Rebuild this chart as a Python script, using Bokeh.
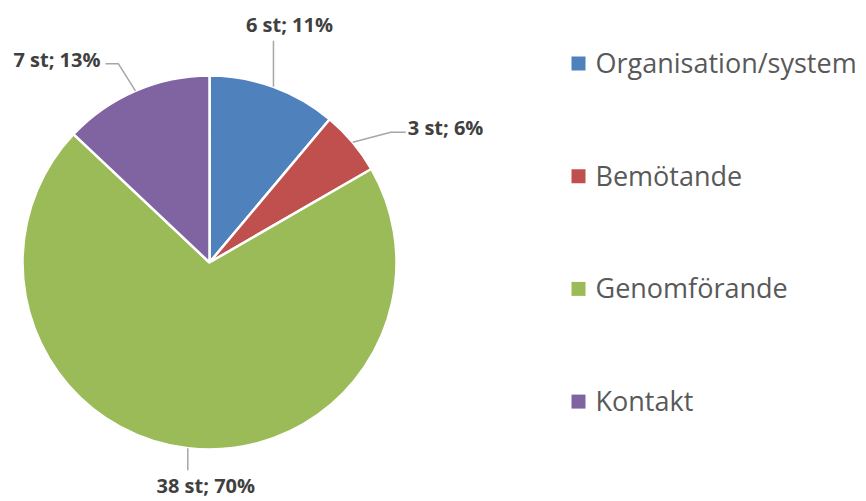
import math
from bokeh.plotting import figure
from bokeh.models import ColumnDataSource, Range1d
from bokeh.core.properties import value
from bokeh.embed import file_html
from bokeh.resources import INLINE

# ---- data ----
categories = ["Organisation/system", "Bemötande", "Genomförande", "Kontakt"]
counts = [6, 3, 38, 7]
colors = ["#4F81BD", "#C0504D", "#9BBB59", "#8064A2"]

W, H = 866, 501
total = sum(counts)

p = figure(width=W, height=H, output_backend="svg", toolbar_location=None,
           x_range=Range1d(0, W), y_range=Range1d(0, H), min_border=0)
p.axis.visible = False
p.grid.visible = False
p.outline_line_color = None
p.background_fill_color = "white"

cx, cy, r = 209, 239, 187

starts, ends, mids = [], [], []
cum = 0
for c in counts:
    a0 = math.pi / 2 - 2 * math.pi * cum / total
    cum += c
    a1 = math.pi / 2 - 2 * math.pi * cum / total
    starts.append(a0)
    ends.append(a1)
    mids.append((a0 + a1) / 2)

src = ColumnDataSource(dict(start=starts, end=ends, color=colors))
p.wedge(x=cx, y=cy, radius=r, start_angle="start", end_angle="end",
        direction="clock", fill_color="color", line_color="white",
        line_width=2.5, source=src)

# leader lines (style offsets from slice edge point)
leader_offsets = [
    [(0, 46)],
    [(38, 10), (15, 0)],
    [(0, -22)],
    [(-17, 27), (-13, 0)],
]
label_offsets = [(16, 16, "center"), (2, 5, "left"), (18, -15.5, "center"), (-5, 4, "right")]

for i, c in enumerate(counts):
    ex = cx + r * math.cos(mids[i])
    ey = cy + r * math.sin(mids[i])
    xs, ys = [ex], [ey]
    for dx, dy in leader_offsets[i]:
        xs.append(xs[-1] + dx)
        ys.append(ys[-1] + dy)
    p.line(xs, ys, line_color="#A6A6A6", line_width=1.5)
    lx, ly, al = label_offsets[i]
    pct = round(100 * c / total)
    p.text(x=[xs[-1] + lx], y=[ys[-1] + ly], text=[f"{c} st; {pct}%"],
           text_font=value("Open Sans"), text_font_style="bold",
           text_font_size="20px", text_color="#404040",
           text_align=al, text_baseline="middle")

# legend
leg_x = 578
leg_y0 = 438
leg_step = 112.7
for i, cat in enumerate(categories):
    y = leg_y0 - i * leg_step
    p.rect(x=[leg_x], y=[y], width=14, height=14, fill_color=colors[i], line_color=None)
    p.text(x=[595], y=[y + 1], text=[cat], text_font=value("Open Sans"),
           text_font_size="27px", text_color="#595959",
           text_align="left", text_baseline="middle")

open("out.html", "w").write(file_html(p, INLINE))
